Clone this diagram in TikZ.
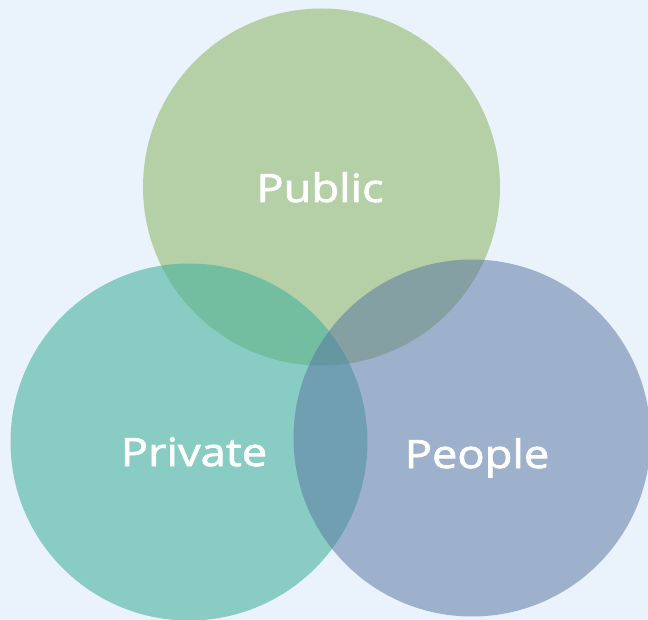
\documentclass[tikz,border=0pt]{standalone}
\usepackage{fontspec}
\newfontfamily\lblfont{Open Sans}[FakeBold=2,FakeStretch=1.16]
\definecolor{bg}{RGB}{234,243,251}
\definecolor{cpublic}{RGB}{181,207,167}
\definecolor{cprivate}{RGB}{71,178,158}
\definecolor{cpeople}{RGB}{90,118,161}
\begin{document}
\begin{tikzpicture}[x=1pt,y=-1pt,
  lbl/.style={text=white,font=\lblfont\fontsize{39}{42}\selectfont,anchor=base,inner sep=0pt}]
\fill[bg] (0,0) rectangle (648,620);
\useasboundingbox (0,0) rectangle (648,620);
\fill[cpublic] (321.5,187) circle (178.5);
\fill[cprivate,fill opacity=0.6] (189,442) circle (178.5);
\fill[cpeople,fill opacity=0.52] (472,438) circle (178.5);
\node[lbl] (public) at (320,202) {Public};
\node[lbl] (private) at (194,466) {Private};
\node[lbl] (people) at (477,468) {People};
\end{tikzpicture}
\end{document}
